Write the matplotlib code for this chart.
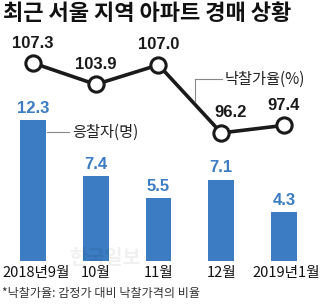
import matplotlib.pyplot as plt
from matplotlib.transforms import blended_transform_factory

months = ['2018년9월', '10월', '11월', '12월', '2019년1월']
bidders = [12.3, 7.4, 5.5, 7.1, 4.3]
bid_rate = [107.3, 103.9, 107.0, 96.2, 97.4]
rate_labels = ['107.3', '103.9', '107.0', '96.2', '97.4']

W, H = 322, 305
BLUE = '#3b7cc2'
KR = ['Noto Sans CJK KR', 'DejaVu Sans']
NUM = ['Liberation Sans Narrow', 'Liberation Sans', 'DejaVu Sans']

fig = plt.figure(figsize=(W / 100, H / 100), dpi=100)


def px(x, y):
    return x / W, 1 - y / H


# watermark, faint, behind everything
fig.text(*px(105, 258), '한국일보', ha='center', va='center', fontsize=14,
         fontweight='bold', family=KR, color='#000000', alpha=0.06, zorder=0)

ax = fig.add_axes([0, 0, 1, 1])
ax.patch.set_alpha(0)
ax.set_xlim(-33 / 62.75, (W - 33) / 62.75)
ax.set_ylim(-44 / 11.46, (H - 44) / 11.46)
ax.axis('off')
xs = list(range(len(months)))
ax.bar(xs, bidders, width=0.414, color=BLUE)
for x, v in zip(xs, bidders):
    ax.annotate(f'{v}', (x, v), xytext=(0, 3), textcoords='offset points',
                ha='center', va='bottom', color=BLUE, fontsize=12,
                fontweight='bold', family=NUM)

# x category labels
tr = blended_transform_factory(ax.transData, fig.transFigure)
label_x = [0.05, 0, 0, 0, 0.04]
for x, m, dx in zip(xs, months, label_x):
    ax.text(x + dx, 1 - 273 / H, m, transform=tr, ha='center', va='center',
            fontsize=10.5, family=KR, color='#111111')

# line chart
ax2 = fig.add_axes([0, 0, 1, 1], sharex=ax)
ax2.set_ylim(107.3 - 242 / 6.3, 107.3 + 63 / 6.3)
ax2.axis('off')
ax2.plot(xs, bid_rate, color='#1a1a1a', lw=2.6, marker='o', ms=11,
         mfc='white', mec='#1a1a1a', mew=2.2, zorder=3)
offs = [(0, 9), (0, 9), (0, 9), (7, 9), (0, 9)]
for x, v, t, o in zip(xs, bid_rate, rate_labels, offs):
    ax2.annotate(t, (x, v), xytext=o, textcoords='offset points',
                 ha='center', va='bottom', color='#1a1a1a', fontsize=12,
                 fontweight='bold', family=NUM)

# leader lines and series labels
fig.add_artist(plt.Line2D([195 / W, 222 / W], [1 - 79 / H, 1 - 79 / H],
                          color='#888888', lw=0.8))
fig.add_artist(plt.Line2D([195 / W, 195 / W], [1 - 79 / H, 1 - 101 / H],
                          color='#888888', lw=0.8))
fig.text(*px(225, 79), '낙찰가율(%)', ha='left', va='center', fontsize=11,
         family=KR, color='#222222')
fig.add_artist(plt.Line2D([47 / W, 69 / W], [1 - 132 / H, 1 - 132 / H],
                          color='#888888', lw=0.8))
fig.text(*px(72, 132), '응찰자(명)', ha='left', va='center', fontsize=11,
         family=KR, color='#222222')

# title, footnote
fig.text(*px(3, 13), '최근 서울 지역 아파트 경매 상황', ha='left', va='center',
         fontsize=15.9, fontweight='bold', family=KR, color='#111111')
fig.text(*px(2, 293), '*낙찰가율: 감정가 대비 낙찰가격의 비율', ha='left',
         va='center', fontsize=8.7, family=KR, color='#333333')

fig.savefig('out.png', dpi=100)
